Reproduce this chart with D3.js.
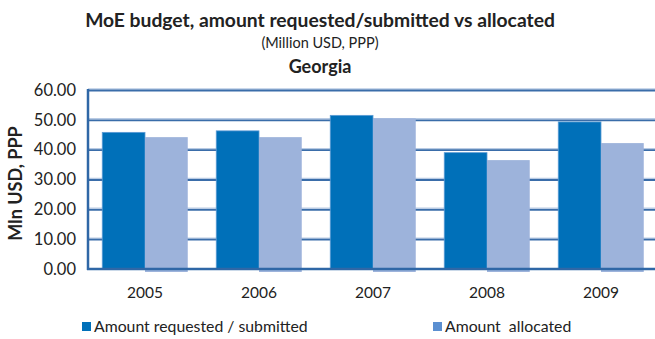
<!DOCTYPE html>
<html><head><meta charset="utf-8">
<script src="https://cdn.jsdelivr.net/npm/d3@7"></script>
<style>
html,body{margin:0;padding:0;background:#fff;}
svg{display:block;font-family:Lato,"Open Sans",sans-serif;}
</style></head>
<body>
<svg id="chart" width="655" height="339"></svg>
<script>
const years = ["2005","2006","2007","2008","2009"];
const requested = [45.8, 46.3, 51.5, 39.0, 49.3];
const allocated = [44.2, 44.2, 50.5, 36.5, 42.2];
const seriesNames = ["Amount requested / submitted", "Amount  allocated"];
const yTicks = [0,10,20,30,40,50,60];

(function(){
const colors = ["#0070b9", "#9db3db"];
const svg = d3.select("#chart");
const pLeft = 88, pRight = 658, pTop = 90, pBottom = 269;

const x = d3.scaleBand().domain(years).range([pLeft, pRight]).paddingInner(0.25).paddingOuter(0.125);
const xs = d3.scaleBand().domain([0,1]).range([0, x.bandwidth()]);
const y = d3.scaleLinear().domain([0,60]).range([pBottom, pTop]);

// gridlines
const grid = svg.append("g");
yTicks.filter(t=>t>0).forEach(t=>{
  grid.append("line").attr("x1",pLeft).attr("x2",655).attr("y1",y(t)-1).attr("y2",y(t)-1)
    .attr("stroke","#b9cbe4").attr("stroke-width",1.5);
  grid.append("line").attr("x1",pLeft).attr("x2",655).attr("y1",y(t)+0.5).attr("y2",y(t)+0.5)
    .attr("stroke","#3a6da9").attr("stroke-width",1.8);
});

// bars
const data = years.map((yr,i)=>({yr, vals:[requested[i], allocated[i]]}));
const g = svg.append("g").selectAll("g").data(data).join("g")
  .attr("transform", d=>`translate(${x(d.yr)},0)`);
g.selectAll("rect").data(d=>d.vals.map((v,k)=>({v,k}))).join("rect")
  .attr("x", d=>xs(d.k))
  .attr("width", xs.bandwidth())
  .attr("y", d=>y(d.v))
  .attr("height", d=>y(0)-y(d.v) + (d.k===1?3:0))
  .attr("fill", d=>colors[d.k])
  .attr("stroke", d=>d.k===0?"#5b9bd5":"none").attr("stroke-width",0.8);

// axes lines
svg.append("line").attr("x1",pLeft).attr("x2",pLeft).attr("y1",pTop-1).attr("y2",pBottom+1)
  .attr("stroke","#2f67a6").attr("stroke-width",2.5);
svg.append("line").attr("x1",pLeft-1).attr("x2",655).attr("y1",pBottom).attr("y2",pBottom)
  .attr("stroke","#2f67a6").attr("stroke-width",2.5);

// y tick labels
const yAxis = d3.axisLeft(y).tickValues(yTicks).tickFormat(d3.format(".2f")).tickSize(0).tickPadding(12);
const ya = svg.append("g").attr("transform",`translate(${pLeft},0)`).call(yAxis);
ya.select(".domain").remove();
ya.selectAll("text").attr("font-size",16.5).attr("fill","#222").attr("font-family","Lato,sans-serif");

// x tick labels
const xAxis = d3.axisBottom(x).tickSize(0).tickPadding(18);
const xa = svg.append("g").attr("transform",`translate(0,${pBottom})`).call(xAxis);
xa.select(".domain").remove();
xa.selectAll("text").attr("font-size",15.5).attr("fill","#222").attr("font-family","Lato,sans-serif");

// titles
svg.append("text").attr("x",320).attr("y",27).attr("text-anchor","middle")
  .attr("font-weight","bold").attr("font-size",19.3).attr("fill","#222")
  .text("MoE budget, amount requested/submitted vs allocated");
svg.append("text").attr("x",320).attr("y",48).attr("text-anchor","middle")
  .attr("font-size",14.5).attr("fill","#222").text("(Million USD, PPP)");
svg.append("text").attr("x",320).attr("y",73).attr("text-anchor","middle")
  .attr("font-weight","bold").attr("font-size",18).attr("fill","#222").text("Georgia");

// y title
svg.append("text").attr("transform",`translate(22,${(pTop+pBottom)/2+4}) rotate(-90)`)
  .attr("text-anchor","middle").attr("font-weight","bold").attr("font-size",18).attr("fill","#222")
  .text("Mln USD, PPP");

// legend
const legX = [82, 433];
const leg = svg.append("g").selectAll("g").data(seriesNames).join("g")
  .attr("transform",(d,i)=>`translate(${legX[i]},322)`);
leg.append("rect").attr("width",9).attr("height",9).attr("fill",(d,i)=>i===0?"#0070b9":"#5b8fd1");
leg.append("text").attr("x",12).attr("y",10).attr("font-size",15.8).attr("fill","#222")
  .attr("xml:space","preserve").style("white-space","pre").text(d=>d);
})();
</script>
</body></html>
